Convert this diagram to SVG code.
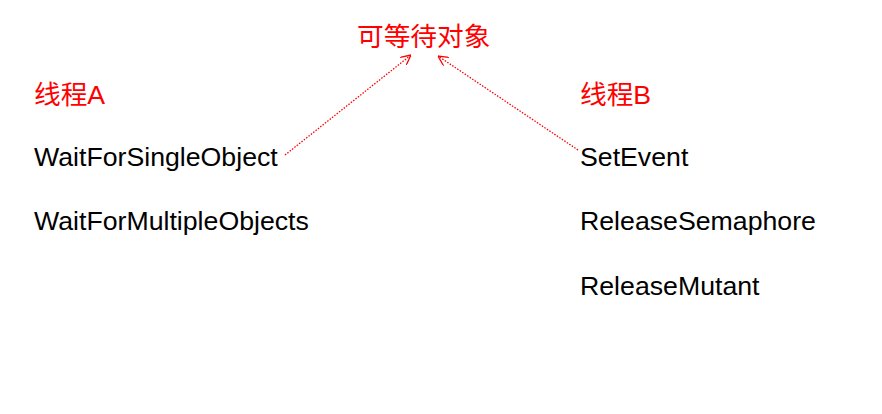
<svg xmlns="http://www.w3.org/2000/svg" width="882" height="414" viewBox="0 0 882 414">
<style>
.t{font-family:"Liberation Sans","Noto Sans CJK SC",sans-serif;font-size:26.7px;fill:#000}
.r{fill:#ff0000}
.c{stroke:#ff0000;stroke-width:1.3;stroke-dasharray:1.5 1.5;fill:none}
</style>
<defs>
<marker id="ah" viewBox="0 0 10 10" refX="10" refY="5" markerWidth="10" markerHeight="10" markerUnits="userSpaceOnUse" orient="auto">
<path d="M0,0 L10,5 L0,10" fill="none" stroke="#ff0000" stroke-width="1.3"/>
</marker>
</defs>
<rect width="882" height="414" fill="#fff"/>
<g id="target"><text class="t r" x="357" y="46">可等待对象</text></g>
<g id="threadA">
<text class="t r" x="34" y="104">线程A</text>
<text class="t" x="34" y="166">WaitForSingleObject</text>
<text class="t" x="34" y="230">WaitForMultipleObjects</text>
</g>
<g id="threadB">
<text class="t r" x="580" y="104">线程B</text>
<text class="t" x="580" y="166">SetEvent</text>
<text class="t" x="580" y="230">ReleaseSemaphore</text>
<text class="t" x="580" y="295">ReleaseMutant</text>
</g>
<g id="connectors">
<line class="c" x1="285" y1="155" x2="411" y2="55" marker-end="url(#ah)"/>
<line class="c" x1="578" y1="150" x2="438" y2="56" marker-end="url(#ah)"/>
</g>
</svg>
